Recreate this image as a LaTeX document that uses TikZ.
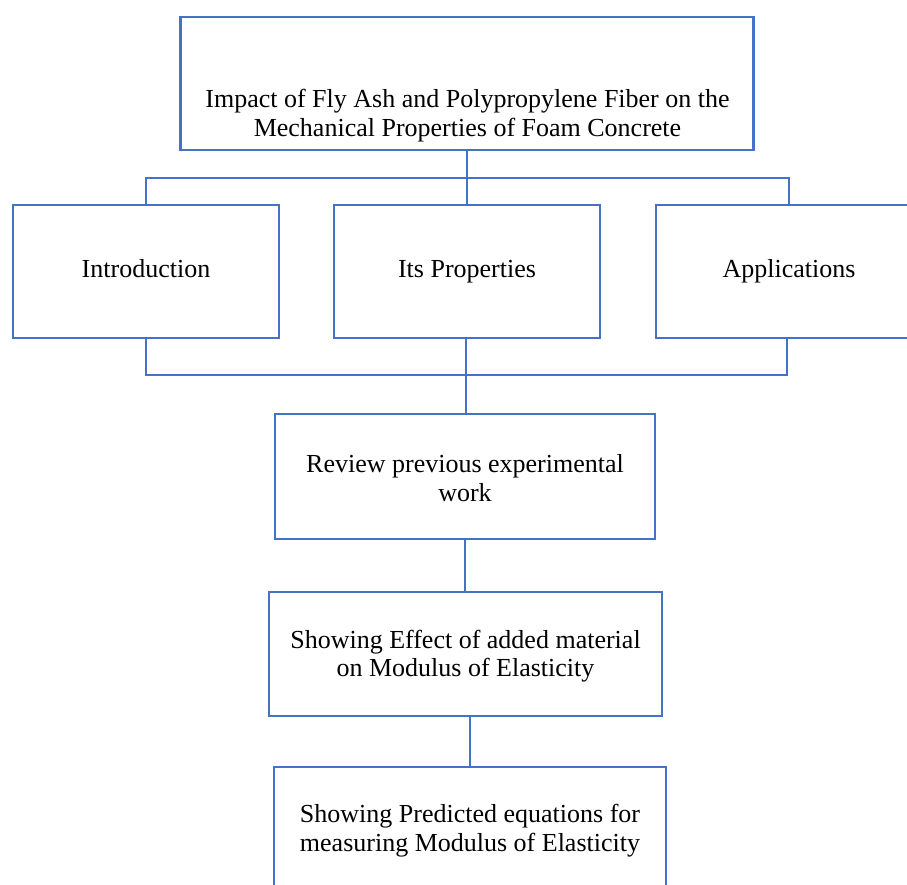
\documentclass[tikz,border=0pt]{standalone}
\usepackage{fontspec}
\setmainfont{Liberation Serif}
\definecolor{boxblue}{HTML}{4472C4}
\tikzset{
  box/.style={draw=boxblue, line width=2.8pt, rectangle, inner sep=0pt},
  lbl/.style={align=center, font=\fontsize{26}{28.5}\selectfont, inner sep=0pt},
  onelbl/.style={lbl, text height=18pt, text depth=6pt},
  conn/.style={draw=boxblue, line width=2.8pt}
}
\begin{document}
\begin{tikzpicture}[x=1pt,y=-1pt]
\clip (0,0) rectangle (907,885);
\fill[white] (0,0) rectangle (907,885);
\node[box, minimum width=573pt, minimum height=133pt] (top) at (467,83.5) {};
\node[lbl] (topT) at (467.5,115.5) {Impact of Fly Ash and Polypropylene Fiber on the\\Mechanical Properties of Foam Concrete};
\node[box, minimum width=266pt, minimum height=133pt] (intro) at (146,271.5) {};
\node[onelbl] (introT) at (intro.center) {Introduction};
\node[box, minimum width=266pt, minimum height=133pt] (props) at (467,271.5) {};
\node[onelbl] (propsT) at (props.center) {Its Properties};
\node[box, minimum width=266pt, minimum height=133pt] (apps) at (789,271.5) {};
\node[onelbl] (appsT) at (apps.center) {Applications};
\node[box, minimum width=380pt, minimum height=125pt] (review) at (465,476.5) {};
\node[lbl] (reviewT) at (465,478) {Review previous experimental\\work};
\node[box, minimum width=393pt, minimum height=124pt] (effect) at (465.5,654) {};
\node[lbl] (effectT) at (465.5,656) {Showing Effect of added material\\on Modulus of Elasticity};
\node[box, minimum width=392pt, minimum height=124pt] (last) at (470,829) {};
\node[lbl] (lastT) at (470,830.5) {Showing Predicted equations for\\measuring Modulus of Elasticity};
\coordinate (topbar) at (0,178);
\coordinate (botbar) at (0,375);
\draw[conn] (top.south) -- (top.south |- props.north);
\draw[conn] (intro.north) -- (intro.north |- topbar) -| (apps.north);
\draw[conn] (intro.south) -- (intro.south |- botbar) -| ([xshift=-2pt]apps.south);
\draw[conn] ([xshift=-1pt]props.south) -- ([xshift=-1pt]props.south |- review.north);
\draw[conn] (review.south) -- (effect.north -| review.south);
\draw[conn] (last.north) -- (last.north |- effect.south);
\end{tikzpicture}
\end{document}
